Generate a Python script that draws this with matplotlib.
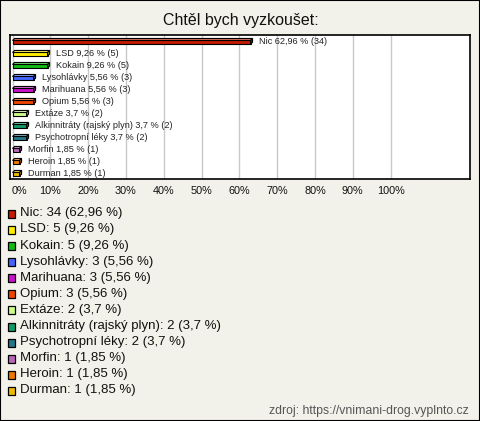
import numpy as np
import matplotlib.pyplot as plt
from matplotlib.patches import Polygon, Rectangle
import matplotlib.colors as mcolors

plt.rcParams['font.family'] = ['Liberation Sans', 'DejaVu Sans']

# Data
labels = ['Nic', 'LSD', 'Kokain', 'Lysohlávky', 'Marihuana', 'Opium', 'Extáze',
          'Alkinnitráty (rajský plyn)', 'Psychotropní léky', 'Morfin', 'Heroin', 'Durman']
counts = [34, 5, 5, 3, 3, 3, 2, 2, 2, 1, 1, 1]
percents = [62.96, 9.26, 9.26, 5.56, 5.56, 5.56, 3.7, 3.7, 3.7, 1.85, 1.85, 1.85]
colors = ['#C41A00', '#FFEE00', '#11BB11', '#4466FF', '#CC11CC', '#EE4400',
          '#CCFF88', '#119966', '#227788', '#BB66BB', '#EE7700', '#EEBB00']
ticks = [0, 10, 20, 30, 40, 50, 60, 70, 80, 90, 100]

W, H = 480, 421
bg = '#F3F2EA'


def fmt(v):
    return ('%g' % v).replace('.', ',')


def shade(c, f):
    r, g, b = mcolors.to_rgb(c)
    if f > 1:
        return (r + (1 - r) * (f - 1), g + (1 - g) * (f - 1), b + (1 - b) * (f - 1))
    return (r * f, g * f, b * f)


fig = plt.figure(figsize=(W / 100, H / 100), dpi=100, facecolor=bg)

# outer border
fig.patches.append(Rectangle((0, 0), 1, 1, transform=fig.transFigure, fill=False,
                             edgecolor='black', linewidth=1.5))

fig.text(241 / W, 1 - 20 / H, 'Chtěl bych vyzkoušet:', ha='center', va='center',
         fontsize=11.5, color='#111111')

# plot area
left, right, top, bottom = 10.3, 470.3, 35.3, 179.3
ax = fig.add_axes([left / W, 1 - bottom / H, (right - left) / W, (bottom - top) / H])
ax.set_facecolor('white')
x0 = -0.6
x1 = x0 + (right - left) / 3.78
ax.set_xlim(x0, x1)
ax.set_ylim(len(labels) - 0.5, -0.5)
for t in ticks:
    ax.axvline(t, color='#C8C8C8', linewidth=1, zorder=0)
for s in ax.spines.values():
    s.set_linewidth(1.2)
ax.set_yticks([])
ax.set_xticks([])

bh = 0.3
dx = 2 / 3.78
dy = 2 / 12
for i, (v, c) in enumerate(zip(percents, colors)):
    yt = i - bh / 2 + 0.08
    yb = i + bh / 2 + 0.08
    ax.add_patch(Rectangle((0, yt), v, bh, facecolor=c, edgecolor='black',
                           linewidth=0.8, zorder=3))
    ax.add_patch(Polygon([(0, yt), (v, yt), (v + dx, yt - dy), (dx, yt - dy)],
                         facecolor=shade(c, 1.4), edgecolor='black', linewidth=0.8, zorder=3))
    ax.add_patch(Polygon([(v, yt), (v + dx, yt - dy), (v + dx, yb - dy), (v, yb)],
                         facecolor=shade(c, 0.7), edgecolor='black', linewidth=0.8, zorder=3))
    ax.text(v + 2.3, i, '%s %s %% (%d)' % (labels[i], fmt(v), counts[i]),
            va='center', ha='left', fontsize=6.6, color='#222222', zorder=4)

# x tick labels
for t in ticks:
    xp = left + (t - x0) * 3.78
    if t == 0:
        fig.text(11.5 / W, 1 - 191 / H, '0%', ha='left', va='center',
                 fontsize=7.8, color='#111111')
    else:
        fig.text(xp / W, 1 - 191 / H, '%d%%' % t, ha='center', va='center',
                 fontsize=7.8, color='#111111')

# legend
for i, (lab, n, p, c) in enumerate(zip(labels, counts, percents, colors)):
    yp = 213.3 + i * 16.1
    fig.patches.append(Rectangle((7.5 / W, 1 - (yp + 4.5) / H), 8 / W, 8 / H,
                                 transform=fig.transFigure, facecolor=c,
                                 edgecolor='black', linewidth=0.9))
    fig.text(19.5 / W, 1 - yp / H, '%s: %d (%s %%)' % (lab, n, fmt(p)),
             ha='left', va='center', fontsize=9.5, color='#111111')

fig.text(469 / W, 1 - 411 / H, 'zdroj: https://vnimani-drog.vyplnto.cz',
         ha='right', va='center', fontsize=8.8, color='#555555')

fig.savefig('out.png', dpi=100, facecolor=bg)
